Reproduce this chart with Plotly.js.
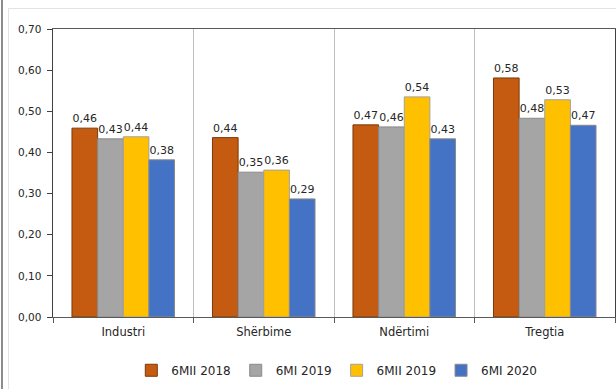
<!DOCTYPE html>
<html>
<head>
<meta charset="utf-8">
<script src="https://cdn.plot.ly/plotly-3.0.1.min.js"></script>
<style>
  html, body { margin:0; padding:0; background:#ffffff; }
  #frameA { position:absolute; left:1px; top:0; width:0; height:389px; border-left:2px solid #8c8c8c; }
  #frameB { position:absolute; left:8px; top:8px; width:620px; height:400px; border-left:1px solid #e3e3e3; border-top:1px solid #e3e3e3; }
  #chart { position:absolute; left:0; top:0; width:616px; height:389px; }
</style>
</head>
<body>
<div id="frameA"></div>
<div id="frameB"></div>
<div id="chart"></div>
<script>
const categories = ["Industri", "Shërbime", "Ndërtimi", "Tregtia"];
const seriesNames = ["6MII 2018", "6MI 2019", "6MII 2019", "6MI 2020"];
const s2018H2 = [0.459, 0.436, 0.467, 0.581];
const s2019H1 = [0.433, 0.352, 0.462, 0.483];
const s2019H2 = [0.438, 0.357, 0.535, 0.528];
const s2020H1 = [0.382, 0.287, 0.433, 0.466];
const yTicks = [0, 0.1, 0.2, 0.3, 0.4, 0.5, 0.6, 0.7];

const colors = ["#C55A11", "#A5A5A5", "#FFC000", "#4472C4"];
const outlines = ["#7a3a0c", "#8a8a8a", "#a0a0a0", "#8a8a8a"];
const values = [s2018H2, s2019H1, s2019H2, s2020H1];

const font = "DejaVu Sans, Verdana, sans-serif";
const traces = values.map((v, i) => ({
  type: "bar",
  name: seriesNames[i],
  x: categories,
  y: v,
  marker: { color: colors[i], line: { color: outlines[i], width: 1 } },
  text: v.map(d => (Math.round(d * 100) / 100).toFixed(2).replace(".", ",")),
  textposition: "outside",
  textfont: { family: font, size: 11, color: "#262626" },
  constraintext: "none",
  cliponaxis: false,
  hoverinfo: "none"
}));

const layout = {
  width: 616, height: 389,
  margin: { l: 53, r: 1, t: 29, b: 72 },
  paper_bgcolor: "rgba(0,0,0,0)",
  plot_bgcolor: "#ffffff",
  separators: ",.",
  barmode: "group",
  bargap: 0.27,
  bargroupgap: 0,
  showlegend: true,
  legend: {
    orientation: "h", x: 0.505, xanchor: "center", y: -0.185, yanchor: "middle",
    font: { family: font, size: 12, color: "#262626" },
    itemwidth: 30, traceorder: "normal"
  },
  xaxis: {
    type: "category",
    tickson: "boundaries",
    ticks: "outside", ticklen: 5, tickcolor: "#595959",
    ticklabelstandoff: 4,
    showgrid: true, gridcolor: "#bfbfbf", gridwidth: 1,
    showline: true, linecolor: "#595959", linewidth: 1, mirror: true,
    tickfont: { family: font, size: 11.5, color: "#262626" },
    fixedrange: true
  },
  yaxis: {
    range: [0, 0.7],
    tickvals: yTicks,
    tickformat: ".2f",
    ticks: "outside", ticklen: 5, tickcolor: "#404040",
    ticklabelstandoff: 3,
    showgrid: false, zeroline: false,
    showline: true, linecolor: "#404040", linewidth: 1.5, mirror: true,
    tickfont: { family: font, size: 10.5, color: "#262626" },
    fixedrange: true
  }
};

Plotly.newPlot("chart", traces, layout, { staticPlot: true, displayModeBar: false });
</script>
</body>
</html>
